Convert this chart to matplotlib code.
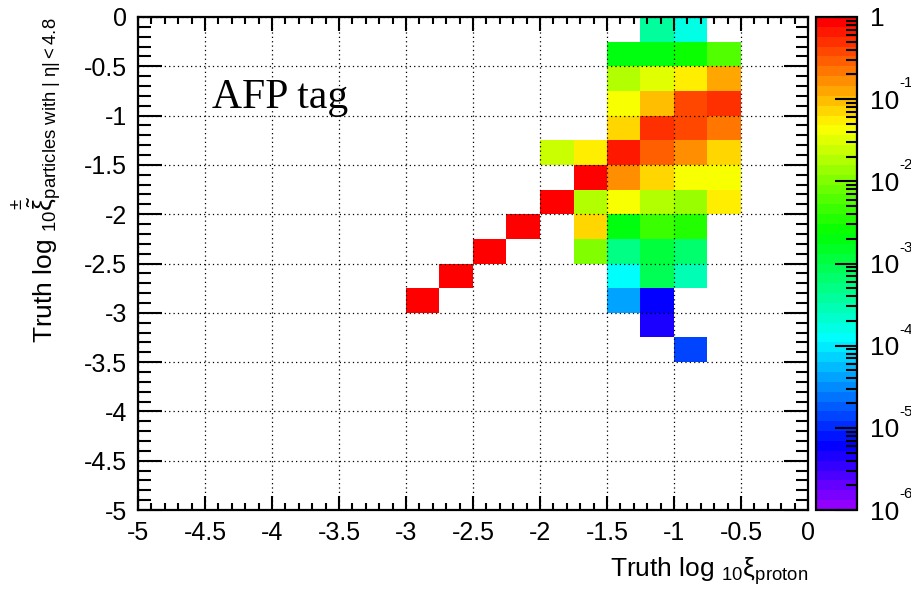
import colorsys
import numpy as np
import matplotlib
matplotlib.use("Agg")
import matplotlib.pyplot as plt
import matplotlib.transforms as mtransforms
from matplotlib.colors import ListedColormap, LogNorm
from matplotlib.ticker import MultipleLocator, LogLocator, FuncFormatter, NullFormatter

plt.rcParams['font.family'] = ['Liberation Sans', 'DejaVu Sans']
plt.rcParams['axes.unicode_minus'] = False
plt.rcParams['mathtext.fontset'] = 'custom'
plt.rcParams['mathtext.rm'] = 'Liberation Sans'
plt.rcParams['mathtext.it'] = 'Liberation Sans:italic'

# ── data ───────────────────────────────────────────────────────────────────────
# bin edges (log10 xi_proton along x, log10 xi_particles along y)
x_edges = [-3.0, -2.75, -2.5, -2.25, -2.0, -1.75, -1.5, -1.25, -1.0, -0.75, -0.5]
y_edges = [-3.5, -3.25, -3.0, -2.75, -2.5, -2.25, -2.0, -1.75, -1.5, -1.25,
           -1.0, -0.75, -0.5, -0.25, 0.0]

# normalised entries, rows listed from the top row (y in [-0.25, 0]) downwards,
# columns from x = -3 to x = -0.75; 0 means empty bin
counts = [
    [0, 0, 0, 0, 0, 0, 0,      3.8e-4, 1.7e-4, 0],
    [0, 0, 0, 0, 0, 0, 2.0e-3, 2.1e-3, 2.6e-3, 6.0e-3],
    [0, 0, 0, 0, 0, 0, 1.8e-2, 3.2e-2, 5.5e-2, 0.126],
    [0, 0, 0, 0, 0, 0, 4.2e-2, 9.5e-2, 0.38,   0.50],
    [0, 0, 0, 0, 0, 0, 7.2e-2, 0.50,   0.38,   0.22],
    [0, 0, 0, 0, 2.4e-2, 5.5e-2, 0.66, 0.29, 0.166, 7.2e-2],
    [0, 0, 0, 0, 0, 1.0, 0.166, 7.2e-2, 4.2e-2, 4.2e-2],
    [0, 0, 0, 0, 1.0, 1.8e-2, 4.2e-2, 1.8e-2, 1.38e-2, 5.5e-2],
    [0, 0, 0, 1.0, 0, 7.2e-2, 2.0e-3, 4.6e-3, 3.5e-3, 0],
    [0, 0, 1.0, 0, 0, 1.05e-2, 5.0e-4, 1.15e-3, 6.6e-4, 0],
    [0, 1.0, 0, 0, 0, 0, 1.26e-4, 8.7e-4, 2.9e-4, 0],
    [1.0, 0, 0, 0, 0, 0, 4.2e-5, 6.0e-6, 0, 0],
    [0, 0, 0, 0, 0, 0, 0, 4.6e-6, 0, 0],
    [0, 0, 0, 0, 0, 0, 0, 0, 1.4e-5, 0],
]

z_min, z_max = 1e-6, 1.0
cbar_ticks = [1e-6, 1e-5, 1e-4, 1e-3, 1e-2, 1e-1, 1.0]
cbar_base = ["10", "10", "10", "10", "10", "10", "1"]
cbar_exp = ["-6", "-5", "-4", "-3", "-2", "-1", ""]

# ── ROOT "pretty" palette: 49 HLS hues violet -> red plus pure red ────────────
pal = [colorsys.hls_to_rgb((274.4 - 5.6 * k) / 360.0, 0.5, 1.0) for k in range(49)]
pal.append((1.0, 0.0, 0.0))
cmap = ListedColormap(pal)
cmap.set_bad('white')

z = np.flipud(np.array(counts, dtype=float))
z = np.ma.masked_where(z <= 0, z)

# ── figure ─────────────────────────────────────────────────────────────────────
fig = plt.figure(figsize=(9.12, 6.01), dpi=100)
ax = fig.add_axes([138 / 912, 91 / 601, 670 / 912, 493 / 601])
cax = fig.add_axes([816 / 912, 91 / 601, 41 / 912, 493 / 601])

mesh = ax.pcolormesh(x_edges, y_edges, z, cmap=cmap,
                     norm=LogNorm(vmin=z_min, vmax=z_max), shading='flat')

ax.set_xlim(-5, 0)
ax.set_ylim(-5, 0)
ax.set_axisbelow(False)
ax.grid(True, which='major', color='black', linestyle=(0, (1, 2.5)), linewidth=0.9)

fmt = FuncFormatter(lambda v, pos: "%g" % (0 if abs(v) < 1e-9 else v))
for axis in (ax.xaxis, ax.yaxis):
    axis.set_major_locator(MultipleLocator(0.5))
    axis.set_minor_locator(MultipleLocator(0.1))
    axis.set_major_formatter(fmt)

ax.tick_params(which='both', direction='in', top=True, right=True,
               labelsize=18, width=1.5, color='black')
ax.tick_params(axis='x', which='major', length=10, pad=8)
ax.tick_params(axis='x', which='minor', length=5)
ax.tick_params(axis='y', which='major', length=17, pad=8)
ax.tick_params(axis='y', which='minor', length=9)
for s in ax.spines.values():
    s.set_linewidth(1.6)

ax.set_xlabel(r"Truth log $_{10}$ξ$_{\rm proton}$", fontsize=19, loc='right', labelpad=7)
ax.set_ylabel(r"Truth log $_{10}\overset{\pm}{\tilde{\mathrm{\xi}}}_{\rm particles\ with\ |\ \eta|<4.8}$",
              fontsize=19, loc='top', labelpad=14)

ax.text(-4.45, -0.92, "AFP tag", family=['Liberation Serif', 'DejaVu Serif'],
        fontsize=30, ha='left', va='baseline')

# ── colour bar ─────────────────────────────────────────────────────────────────
cb = fig.colorbar(mesh, cax=cax)
cb.outline.set_linewidth(1.6)
cax.yaxis.set_ticks_position('right')
cax.yaxis.set_minor_locator(LogLocator(base=10, subs=np.arange(2, 10)))
cax.yaxis.set_minor_formatter(NullFormatter())
cax.set_yticks(cbar_ticks)
cax.set_yticklabels(cbar_base)
cax.tick_params(which='both', direction='in', right=True, left=False,
                labelsize=19, width=1.5)
cax.tick_params(which='major', length=16, pad=9)
cax.tick_params(which='minor', length=8)

# small raised exponents, ROOT style
exp_tr = mtransforms.offset_copy(cax.get_yaxis_transform(), fig=fig,
                                 x=42, y=9, units='dots')
for t, e in zip(cbar_ticks, cbar_exp):
    if e:
        cax.text(1.0, t, e, transform=exp_tr, fontsize=11,
                 ha='left', va='bottom', clip_on=False)

fig.savefig("out.png", dpi=100)
